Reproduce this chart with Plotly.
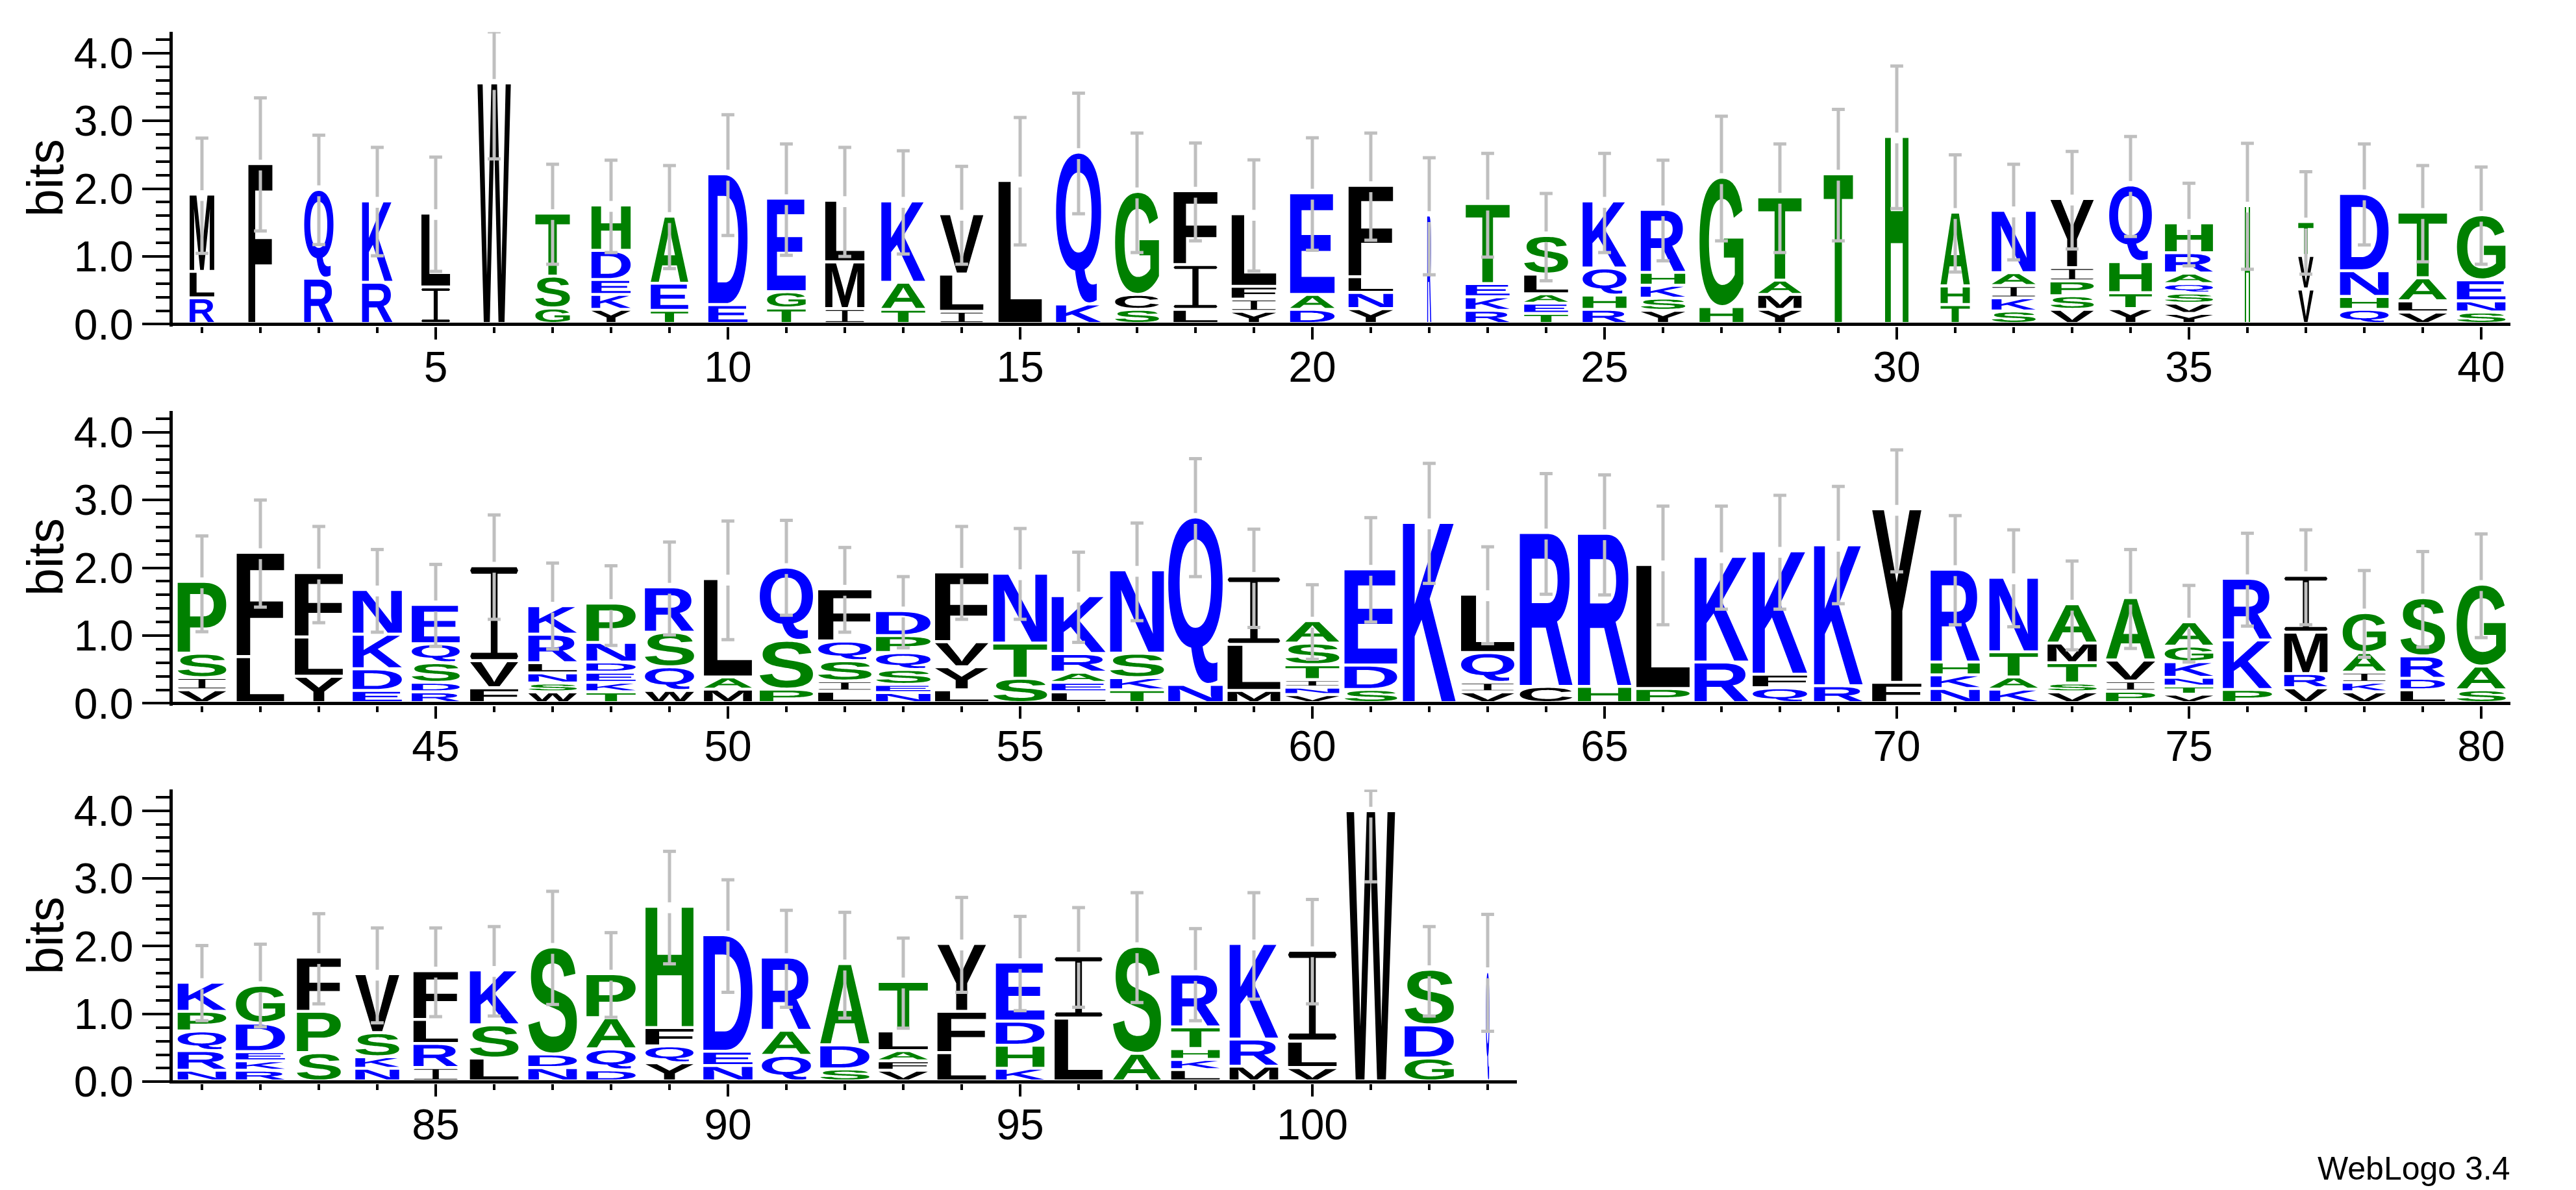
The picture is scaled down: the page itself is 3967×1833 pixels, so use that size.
import glob, os, struct
import plotly.graph_objects as go

# ---------- data: letters bottom to top, heights in bits ----------
LETTERS_1 = ["RLM","F","RQ","RK","IL","W","GST","YKEDH","TEA","ED","TGE","IML","TAK","ILV","L","KQ","SCG","LIF","YIFL","DAE",
             "YNLF","R","RKET","TEALS","RHQK","YSKHR","HG","YMAT","T","H","THA","SKIAN","VSPIY","YTHQ","YVSQARH","H","VVT","QHND","VLAT","SNEG"]
HEIGHTS_1 = [[.35,.39,1.14],[2.33],[.64,1.31],[.58,1.20],[.51,1.09],[3.52],[.20,.47,.93],[.18,.22,.22,.43,.67],[.165,.40,.99],[.25,1.93],
             [.20,.24,1.38],[.19,.69,.91],[.18,.40,1.20],[.15,.55,.89],[2.08],[.26,2.24],[.18,.22,1.52],[.18,.66,1.09],[.15,.18,.19,1.07],[.18,.22,1.50],
             [.19,.24,.23,1.35],[1.57],[.165,.20,.195,1.18],[.12,.15,.14,.29,.57],[.18,.21,.40,.99],[.165,.18,.19,.19,.93],[.22,1.91],[.18,.22,.21,1.23],[2.18],[2.73],
             [.25,.275,1.09],[.155,.195,.18,.19,.92],[.18,.20,.22,.195,1.02],[.19,.235,.46,1.13],[.12,.15,.15,.14,.155,.30,.44],[1.71],[.48,.495,.50],[.18,.19,.38,1.14],[.14,.165,.34,.97],[.14,.165,.31,.96]]
WIDTHS_1 = [.42,.41,.50,.52,.49,.57,.59,.67,.64,.67,.66,.67,.75,.74,.74,.77,.75,.75,.76,.76,
            .76,.07,.75,.75,.75,.76,.75,.74,.50,.40,.50,.75,.74,.73,.82,.09,.26,.83,.83,.83]
ERR_HI_1 = [2.745,3.34,2.79,2.61,2.466,4.315,2.36,2.42,2.34,3.09,2.66,2.61,2.56,2.33,3.05,3.41,2.82,2.675,2.426,2.75,
            2.82,2.455,2.52,1.93,2.52,2.42,3.07,2.66,3.17,3.81,2.50,2.36,2.55,2.77,2.08,2.67,2.25,2.66,2.34,2.32]
ERR_LO_1 = [1.046,1.376,1.174,1.01,.78,2.44,.885,1.057,.82,1.31,1.016,1.0,1.035,.885,1.17,1.63,1.057,1.23,.785,1.09,
            1.24,.73,.99,.64,1.057,.936,1.23,1.057,1.23,1.706,.77,.95,1.11,1.295,.86,.81,.74,1.17,.92,.885]

LETTERS_2 = ["VISP","LF","YLF","EDKN","RDSQE","FVI","WSNLRK","TKEDNP","WQSR","MAL","PSQ","LISQF","NESQPD","LYVF","STN","LEARK","TKSN","NQ","MLI","VNITSA",
             "SDE","K","VIQL","CR","HR","PL","RK","QFK","RK","FY","NKHR","KATN","VSTMA","PIVA","VTNKGA","PKR","VRMI","VKIAG","LDRS","SAG"]
HEIGHTS_2 = [[.16,.18,.36,1.06],[.65,1.54],[.36,.58,.95],[.15,.32,.51,.66],[.13,.14,.29,.28,.58],[.19,.40,1.40],[.13,.13,.15,.15,.42,.42],[.13,.14,.15,.15,.29,.58],[.15,.35,.51,.67],[.17,.18,1.45],
             [.17,.72,1.08],[.14,.15,.30,.29,.77],[.12,.12,.22,.25,.25,.37],[.16,.34,.37,1.03],[.33,.52,1.03],[.13,.14,.15,.275,.855],[.16,.18,.36,1.23],[.24,2.47],[.15,.68,1.01],[.09,.11,.11,.22,.32,.33],
             [.165,.36,1.42],[2.63],[.13,.14,.44,.86],[.21,2.27],[.21,2.26],[.18,1.83],[.57,1.56],[.19,.20,1.82],[.22,2.08],[.27,2.56],
             [.18,.20,.19,1.37],[.17,.18,.37,1.10],[.13,.13,.30,.29,.58],[.14,.15,.31,.92],[.095,.12,.13,.23,.23,.36],[.165,.73,.91],[.19,.21,.61,.84],[.13,.14,.15,.29,.59],[.16,.17,.33,.86],[.16,.35,1.21]]
WIDTHS_2 = [.83,.81,.82,.84,.82,.82,.83,.84,.84,.82,.91,.91,.93,.91,.92,.92,.92,.93,.90,.92,
            .90,.90,.91,.90,.91,.91,.92,.93,.83,.84,.84,.83,.84,.84,.83,.84,.74,.74,.76,.84]
ERR_HI_2 = [2.47,3.0,2.61,2.27,2.05,2.78,2.07,2.03,2.38,2.69,2.70,2.30,1.87,2.61,2.58,2.23,2.66,3.61,2.57,1.75,
            2.74,3.54,2.31,3.39,3.37,2.91,2.91,3.07,3.20,3.74,2.77,2.56,2.10,2.27,1.74,2.51,2.56,1.96,2.24,2.50]
ERR_LO_2 = [1.057,1.42,1.19,1.05,.84,1.24,.80,.855,1.01,.94,1.30,1.05,.82,1.24,1.24,.90,1.22,1.87,1.12,.65,
            1.20,1.77,.88,1.61,1.60,1.16,1.39,1.39,1.47,1.94,1.16,1.13,.79,.81,.61,1.14,1.16,.68,.83,.97]

LETTERS_3 = ["NRQPK","RKEDG","SPF","NKSV","IRLF","LSK","NDS","DQAP","YQFH","NED","QAR","SDA","VFALT","LFY","KHDE","LI","AS","LKHTR","MRK","VLI","W","GDS","Q"]
HEIGHTS_3 = [[.13,.29,.29,.29,.43],[.13,.14,.135,.42,.56],[.39,.61,.80],[.16,.17,.355,.87],[.17,.355,.355,.72],[.31,.49,.81],[.17,.20,1.58],[.135,.31,.46,.65],[.24,.25,.27,1.79],[.20,.21,1.72],
             [.35,.37,1.08],[.15,.355,1.20],[.13,.14,.15,.29,.73],[.39,.61,1.00],[.16,.34,.355,.87],[.90,.92],[.38,1.58],[.14,.15,.16,.32,.78],[.19,.40,1.41],[.17,.39,1.34],[3.96],[.31,.49,.82],[1.59]]
WIDTHS_3 = [.83,.84,.75,.75,.76,.83,.83,.84,.82,.84,.84,.84,.84,.83,.83,.82,.82,.83,.83,.83,.83,.84,.06]
ERR_HI_3 = [2.01,2.03,2.48,2.27,2.27,2.29,2.81,2.20,3.40,2.98,2.53,2.50,2.12,2.72,2.44,2.57,2.79,2.26,2.79,2.69,4.30,2.29,2.47]
ERR_LO_3 = [.90,.81,1.15,.87,.96,.97,1.14,.95,1.74,1.32,1.10,.94,.79,1.32,1.05,1.10,1.17,.90,1.22,1.15,2.95,.97,.745]

FIRST_POS = [1, 41, 81]
AXIS_RANGE = [(0.5, 40.5), (40.5, 80.5), (80.5, 103.5)]
Y_TICKS = [0.0, 1.0, 2.0, 3.0, 4.0]
Y_TICK_LABELS = ["0.0", "1.0", "2.0", "3.0", "4.0"]

BLUE, GREEN, BLACK, GRAY = "#0000ff", "#008000", "#000000", "#bfbfbf"
COLORS = {**{c: BLUE for c in "DEKNQR"}, **{c: GREEN for c in "AGHPST"}, **{c: BLACK for c in "CFILMVWY"}}

# ---------- letter outlines come from the installed bold sans font ----------
def find_font():
    for root in ("/usr/share/fonts", "/usr/local/share/fonts", os.path.expanduser("~/.fonts"), os.path.expanduser("~/.local/share/fonts")):
        hits = glob.glob(root + "/**/LiberationSans-Bold.ttf", recursive=True)
        if hits:
            return hits[0]
    raise FileNotFoundError("LiberationSans-Bold.ttf")

def load_outlines(path, chars):
    b = open(path, "rb").read()
    n = struct.unpack(">H", b[4:6])[0]
    tab = {}
    for i in range(n):
        t, _, off, ln = struct.unpack(">4sIII", b[12 + 16 * i:28 + 16 * i])
        tab[t.decode()] = off
    locfmt = struct.unpack(">h", b[tab["head"] + 50:tab["head"] + 52])[0]
    cm = tab["cmap"]
    ns = struct.unpack(">H", b[cm + 2:cm + 4])[0]
    sub = None
    for i in range(ns):
        pid, eid, off = struct.unpack(">HHI", b[cm + 4 + 8 * i:cm + 12 + 8 * i])
        if struct.unpack(">H", b[cm + off:cm + off + 2])[0] == 4:
            sub = cm + off
    segx2 = struct.unpack(">H", b[sub + 6:sub + 8])[0]
    seg = segx2 // 2
    ends = struct.unpack(">%dH" % seg, b[sub + 14:sub + 14 + segx2])
    starts = struct.unpack(">%dH" % seg, b[sub + 16 + segx2:sub + 16 + 2 * segx2])
    deltas = struct.unpack(">%dh" % seg, b[sub + 16 + 2 * segx2:sub + 16 + 3 * segx2])
    ro_pos = sub + 16 + 3 * segx2
    ros = struct.unpack(">%dH" % seg, b[ro_pos:ro_pos + segx2])
    def gid(code):
        for i in range(seg):
            if starts[i] <= code <= ends[i]:
                if ros[i] == 0:
                    return (code + deltas[i]) & 0xFFFF
                p = ro_pos + 2 * i + ros[i] + 2 * (code - starts[i])
                g = struct.unpack(">H", b[p:p + 2])[0]
                return (g + deltas[i]) & 0xFFFF if g else 0
        return 0
    def loca(g):
        if locfmt:
            return struct.unpack(">I", b[tab["loca"] + 4 * g:tab["loca"] + 4 * g + 4])[0]
        return 2 * struct.unpack(">H", b[tab["loca"] + 2 * g:tab["loca"] + 2 * g + 2])[0]
    out = {}
    for ch in chars:
        p = tab["glyf"] + loca(gid(ord(ch)))
        nc = struct.unpack(">h", b[p:p + 2])[0]
        q = p + 10
        ce = struct.unpack(">%dH" % nc, b[q:q + 2 * nc])
        q += 2 * nc
        q += 2 + struct.unpack(">H", b[q:q + 2])[0]
        npt = ce[-1] + 1
        flags = []
        while len(flags) < npt:
            f = b[q]; q += 1
            flags.append(f)
            if f & 8:
                flags += [f] * b[q]; q += 1
        xs, v = [], 0
        for f in flags:
            if f & 2:
                d = b[q]; q += 1
                v += d if f & 16 else -d
            elif not f & 16:
                v += struct.unpack(">h", b[q:q + 2])[0]; q += 2
            xs.append(v)
        ys, v = [], 0
        for f in flags:
            if f & 4:
                d = b[q]; q += 1
                v += d if f & 32 else -d
            elif not f & 32:
                v += struct.unpack(">h", b[q:q + 2])[0]; q += 2
            ys.append(v)
        contours, s = [], 0
        for e in ce:
            pts = [(xs[i], ys[i], flags[i] & 1) for i in range(s, e + 1)]
            s = e + 1
            exp = []
            for i, pt in enumerate(pts):
                nx = pts[(i + 1) % len(pts)]
                exp.append(pt)
                if not pt[2] and not nx[2]:
                    exp.append(((pt[0] + nx[0]) / 2, (pt[1] + nx[1]) / 2, 1))
            k = next(i for i, pt in enumerate(exp) if pt[2])
            exp = exp[k:] + exp[:k]
            poly, i = [], 0
            m = len(exp)
            while i < m:
                a = exp[i]
                c = exp[(i + 1) % m]
                if c[2]:
                    poly.append((a[0], a[1]))
                    i += 1
                else:
                    d = exp[(i + 2) % m]
                    for t in range(8):
                        u = t / 8
                        poly.append(((1 - u) ** 2 * a[0] + 2 * u * (1 - u) * c[0] + u * u * d[0],
                                     (1 - u) ** 2 * a[1] + 2 * u * (1 - u) * c[1] + u * u * d[1]))
                    i += 2
            contours.append(poly)
        allx = [x for c in contours for x, _ in c]
        ally = [y for c in contours for _, y in c]
        x0, x1, y0, y1 = min(allx), max(allx), min(ally), max(ally)
        out[ch] = [[((x - x0) / (x1 - x0), (y - y0) / (y1 - y0)) for x, y in c] for c in contours]
    return out

OUTLINES = load_outlines(find_font(), "ACDEFGHKLMNPQRSTVWY")
# The reference's I is the serifed form with slightly rounded bars.
OUTLINES["I"] = [[(.03,0),(.97,0),(1,.03),(.97,.07),(.57,.07),(.57,.93),(.97,.93),(1,.965),(.97,1),
                  (.03,1),(0,.965),(.03,.93),(.43,.93),(.43,.07),(.03,.07),(0,.03)]]

W, H = 3967, 1833
Y_MAX, Y_MIN = 4.31, -0.03
PX_PER_BIT = 104.4
ZERO_PX = [499.4, 1083.4, 1666.3]
BITS_CENTER_PX = [274, 858, 1441]
PLOT_LEFT, PX_PER_POS, SPINE_PX = 266.0, 90.0, 262.6
BASE, FIRST_GAP, GAP, ERR_GAP, CAP = 0.018, 0.015, 0.044, 0.08, 0.11

rows = [(LETTERS_1, HEIGHTS_1, WIDTHS_1, ERR_HI_1, ERR_LO_1),
        (LETTERS_2, HEIGHTS_2, WIDTHS_2, ERR_HI_2, ERR_LO_2),
        (LETTERS_3, HEIGHTS_3, WIDTHS_3, ERR_HI_3, ERR_LO_3)]

fig = go.Figure()
FONT = "Liberation Sans"
for r, (lets, hts, wds, hi, lo) in enumerate(rows):
    sfx = "" if r == 0 else str(r + 1)
    xa, ya = "x" + sfx, "y" + sfx
    ex, ey, cx, cy = [], [], [], []
    for i, (s, hs, wd) in enumerate(zip(lets, hts, wds)):
        pos = FIRST_POS[r] + i
        cum = BASE
        for j, (ch, h) in enumerate(zip(s, hs)):
            bottom = cum + (FIRST_GAP if j == 0 else GAP)
            top = cum + h
            cum = top
            gx, gy = [], []
            for contour in OUTLINES[ch]:
                pts = contour + [contour[0]]
                gx += [pos - wd / 2 + wd * p[0] for p in pts] + [None]
                gy += [bottom + (top - bottom) * p[1] for p in pts] + [None]
            fig.add_trace(go.Scatter(x=gx, y=gy, xaxis=xa, yaxis=ya, mode="lines", fill="toself",
                                     fillcolor=COLORS[ch], line=dict(width=0, color=COLORS[ch], simplify=False),
                                     name=ch, hoverinfo="name", showlegend=False, cliponaxis=False))
        ex += [pos, pos, None, pos, pos, None]
        ey += [lo[i], cum - ERR_GAP, None, cum + ERR_GAP, hi[i], None]
        for v in (lo[i], hi[i]):
            cx += [pos - CAP, pos + CAP, None]
            cy += [v, v, None]
    fig.add_trace(go.Scatter(x=ex, y=ey, xaxis=xa, yaxis=ya, mode="lines", line=dict(color=GRAY, width=5),
                             hoverinfo="skip", showlegend=False, cliponaxis=False))
    fig.add_trace(go.Scatter(x=cx, y=cy, xaxis=xa, yaxis=ya, mode="lines", line=dict(color=GRAY, width=5),
                             hoverinfo="skip", showlegend=False, cliponaxis=False))
    rng = AXIS_RANGE[r]
    x_dom = [PLOT_LEFT / W, (PLOT_LEFT + (rng[1] - rng[0]) * PX_PER_POS) / W]
    z = ZERO_PX[r]
    y_dom = [1 - (z - Y_MIN * PX_PER_BIT) / H, 1 - (z - Y_MAX * PX_PER_BIT) / H]
    fig.update_layout({
        "xaxis" + sfx: dict(domain=x_dom, range=list(rng), anchor=ya, showline=False, showgrid=False, zeroline=False,
                            automargin=False,
                            ticks="outside", ticklen=19, tickwidth=4, tickcolor="black", tick0=0, dtick=5,
                            ticklabelstandoff=-14,
                            minor=dict(ticks="outside", ticklen=9, tickwidth=4, tickcolor="black", tick0=0, dtick=1, showgrid=False),
                            tickfont=dict(family=FONT, size=66, color="black")),
        "yaxis" + sfx: dict(domain=y_dom, range=[Y_MIN, Y_MAX], anchor="free", position=SPINE_PX / W,
                            automargin=False,
                            showline=True, linewidth=5, linecolor="black", showgrid=False,
                            zeroline=True, zerolinewidth=5, zerolinecolor="black",
                            ticks="outside", ticklen=42, tickwidth=4, tickcolor="black",
                            tickmode="array", tickvals=Y_TICKS, ticktext=Y_TICK_LABELS,
                            minor=dict(ticks="outside", ticklen=21, tickwidth=4, tickcolor="black", tick0=0, dtick=0.2, showgrid=False),
                            tickfont=dict(family=FONT, size=66, color="black")),
    })
    fig.add_annotation(text="bits", xref="paper", yref="paper", x=70 / W, y=1 - BITS_CENTER_PX[r] / H,
                       xanchor="center", yanchor="middle", textangle=-90, showarrow=False,
                       font=dict(family=FONT, size=77, color="black"))

fig.add_annotation(text="WebLogo 3.4", xref="paper", yref="paper", x=3868 / W, y=1 - 1800 / H, xanchor="right", yanchor="middle",
                   showarrow=False, font=dict(family=FONT, size=50, color="black"))
fig.update_layout(width=W, height=H, margin=dict(l=0, r=0, t=0, b=0), autosize=False,
                  paper_bgcolor="white", plot_bgcolor="white", showlegend=False, hovermode="closest")
fig.write_html("out.html", config=dict(displayModeBar=False),
               post_script="document.body.style.margin='0';document.documentElement.style.overflow='hidden';")
